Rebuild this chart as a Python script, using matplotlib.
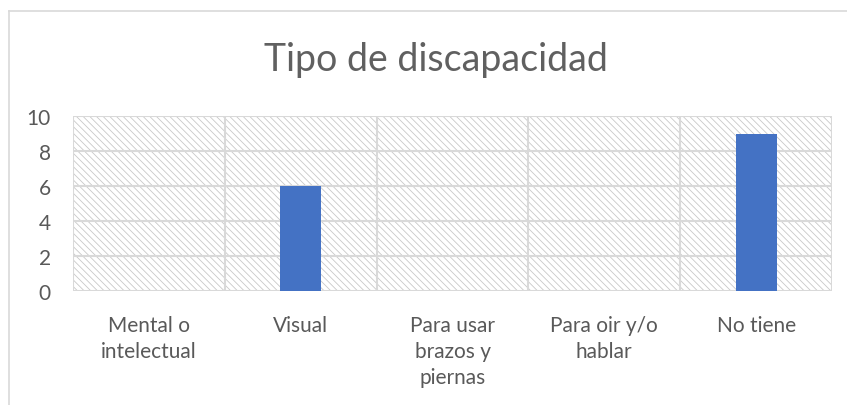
import matplotlib.pyplot as plt
from matplotlib.patches import Rectangle
from matplotlib.lines import Line2D

categories = ["Mental o\nintelectual", "Visual", "Para usar\nbrazos y\npiernas",
              "Para oir y/o\nhablar", "No tiene"]
values = [0, 6, 0, 0, 9]
yticks = [0, 2, 4, 6, 8, 10]

grid_col = "#d9d9d9"
text_col = "#595959"
bar_col = "#4472c4"

plt.rcParams["font.family"] = ["Lato", "DejaVu Sans"]
plt.rcParams["hatch.color"] = "#c8c8c8"
plt.rcParams["hatch.linewidth"] = 0.6

fig = plt.figure(figsize=(8.47, 4.06), dpi=100)
ax = fig.add_axes([73 / 847, 1 - 292 / 406, (832 - 73) / 847, (292 - 117) / 406])

# hatched plot-area background
ax.add_patch(Rectangle((0, 0), 1, 1, transform=ax.transAxes, facecolor="white",
                       edgecolor="#c8c8c8", hatch="\\\\\\\\\\", linewidth=0, zorder=0))

x = range(len(categories))
ax.bar(x, values, width=0.27, color=bar_col, zorder=3)

ax.set_xlim(-0.5, len(categories) - 0.5)
ax.set_ylim(0, 10)
ax.set_yticks(yticks)
ax.set_xticks(list(x))
ax.set_xticklabels(categories, fontsize=15, color=text_col, linespacing=1.38, va="top")
ax.tick_params(axis="y", labelsize=15, labelcolor=text_col, length=0, pad=16)
ax.tick_params(axis="x", length=0, pad=17)

for y in yticks:
    ax.axhline(y, color=grid_col, linewidth=1.5, zorder=1)
for b in [i - 0.5 for i in range(len(categories) + 1)]:
    ax.axvline(b, color=grid_col, linewidth=1.5, zorder=1)
for s in ax.spines.values():
    s.set_visible(False)

fig.text(436 / 847, 1 - 60 / 406, "Tipo de discapacidad", ha="center", va="center",
         fontsize=27, color="#606060")

# chart frame (top and left edges visible)
fig.add_artist(Line2D([9 / 847, 1], [1 - 12 / 406] * 2, color=grid_col, linewidth=1.2))
fig.add_artist(Line2D([9 / 847] * 2, [0, 1 - 12 / 406], color=grid_col, linewidth=1.2))

fig.savefig("out.png", dpi=100)
